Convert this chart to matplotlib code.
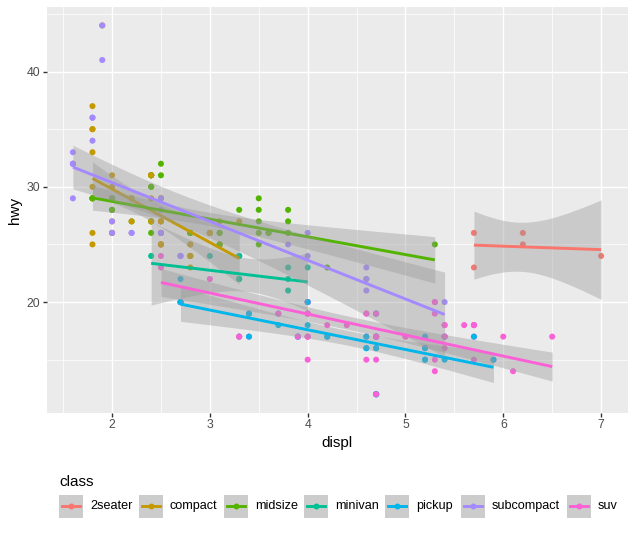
import numpy as np
import matplotlib
matplotlib.use("Agg")
import matplotlib.pyplot as plt
from matplotlib.patches import Rectangle
from matplotlib.lines import Line2D
from math import lgamma, pi, exp

plt.rcParams['font.family'] = ['Liberation Sans', 'DejaVu Sans']

# mpg: engine displacement vs highway mileage, rows in data order
displ = [
    1.8, 1.8, 2.0, 2.0, 2.8, 2.8, 3.1,                      # audi a4
    1.8, 1.8, 2.0, 2.0, 2.8, 2.8, 3.1, 3.1,                 # a4 quattro
    2.8, 3.1, 4.2,                                          # a6 quattro
    5.3, 5.3, 5.3, 5.7, 6.0,                                # c1500 suburban
    5.7, 5.7, 6.2, 6.2, 7.0,                                # corvette
    5.3, 5.3, 5.7, 6.5,                                     # k1500 tahoe
    2.4, 2.4, 3.1, 3.5, 3.6,                                # malibu
    2.4, 3.0, 3.3, 3.3, 3.3, 3.3, 3.3, 3.8, 3.8, 3.8, 4.0,  # caravan
    3.7, 3.7, 3.9, 3.9, 4.7, 4.7, 4.7, 5.2, 5.2,            # dakota
    3.9, 4.7, 4.7, 4.7, 5.2, 5.7, 5.9,                      # durango
    4.7, 4.7, 4.7, 4.7, 4.7, 4.7, 5.2, 5.2, 5.7, 5.9,       # ram 1500
    4.6, 5.4, 5.4,                                          # expedition
    4.0, 4.0, 4.0, 4.0, 4.6, 5.0,                           # explorer
    4.2, 4.2, 4.6, 4.6, 4.6, 5.4, 5.4,                      # f150
    3.8, 3.8, 4.0, 4.0, 4.6, 4.6, 4.6, 4.6, 5.4,            # mustang
    1.6, 1.6, 1.6, 1.6, 1.6, 1.8, 1.8, 1.8, 2.0,            # civic
    2.4, 2.4, 2.4, 2.4, 2.5, 2.5, 3.3,                      # sonata
    2.0, 2.0, 2.0, 2.0, 2.7, 2.7, 2.7,                      # tiburon
    3.0, 3.7, 4.0, 4.7, 4.7, 4.7, 5.7, 6.1,                 # grand cherokee
    4.0, 4.2, 4.4, 4.6,                                     # range rover
    5.4, 5.4, 5.4,                                          # navigator
    4.0, 4.0, 4.6, 5.0,                                     # mountaineer
    2.4, 2.4, 2.5, 2.5, 3.5, 3.5,                           # altima
    3.0, 3.0, 3.5,                                          # maxima
    3.3, 3.3, 4.0, 5.6,                                     # pathfinder
    3.1, 3.8, 3.8, 3.8, 5.3,                                # grand prix
    2.5, 2.5, 2.5, 2.5, 2.5, 2.5,                           # forester
    2.2, 2.2, 2.5, 2.5, 2.5, 2.5, 2.5, 2.5,                 # impreza
    2.7, 2.7, 3.4, 3.4, 4.0, 4.7,                           # 4runner
    2.2, 2.2, 2.4, 2.4, 3.0, 3.0, 3.5,                      # camry
    2.2, 2.2, 2.4, 2.4, 3.0, 3.0, 3.3,                      # camry solara
    1.8, 1.8, 1.8, 1.8, 1.8,                                # corolla
    4.7, 5.7,                                               # land cruiser
    2.7, 2.7, 2.7, 3.4, 3.4, 4.0, 4.0,                      # tacoma
    2.0, 2.0, 2.0, 2.0, 2.8,                                # gti
    1.9, 2.0, 2.0, 2.0, 2.0, 2.5, 2.5, 2.8, 2.8,            # jetta
    1.9, 1.9, 2.0, 2.0, 2.5, 2.5,                           # new beetle
    1.8, 1.8, 2.0, 2.0, 2.8, 2.8, 3.6,                      # passat
]

hwy = [
    29, 29, 31, 30, 26, 26, 27,
    26, 25, 28, 27, 25, 25, 25, 25,
    24, 25, 23,
    20, 15, 20, 17, 17,
    26, 23, 26, 25, 24,
    19, 14, 15, 17,
    27, 30, 26, 29, 26,
    24, 24, 22, 22, 24, 24, 17, 22, 21, 23, 23,
    19, 18, 17, 17, 19, 19, 12, 17, 15,
    17, 17, 12, 17, 16, 18, 15,
    16, 12, 17, 17, 16, 12, 15, 16, 17, 15,
    17, 17, 18,
    17, 19, 17, 19, 19, 17,
    17, 17, 16, 16, 17, 15, 17,
    26, 25, 26, 24, 21, 22, 23, 22, 20,
    33, 32, 32, 29, 32, 34, 36, 36, 29,
    26, 27, 30, 31, 26, 26, 28,
    26, 29, 28, 27, 24, 24, 24,
    22, 19, 20, 17, 12, 19, 18, 14,
    15, 18, 18, 15,
    17, 16, 18,
    17, 19, 19, 17,
    29, 27, 31, 32, 27, 26,
    26, 26, 25,
    17, 17, 20, 18,
    26, 26, 27, 28, 25,
    25, 24, 27, 25, 26, 23,
    26, 26, 26, 26, 25, 27, 25, 27,
    20, 20, 19, 17, 20, 17,
    29, 27, 31, 31, 26, 26, 28,
    27, 29, 31, 31, 26, 26, 27,
    30, 33, 35, 37, 35,
    15, 18,
    20, 20, 22, 17, 19, 18, 20,
    29, 26, 29, 29, 24,
    44, 29, 26, 29, 29, 29, 29, 23, 24,
    44, 41, 29, 26, 28, 29,
    29, 29, 28, 29, 26, 26, 26,
]

# class of each row, as (class, run length) in data order
class_runs = [
    ("compact", 15), ("midsize", 3), ("suv", 5), ("2seater", 5), ("suv", 4),
    ("midsize", 5), ("minivan", 11), ("pickup", 9), ("suv", 7), ("pickup", 10),
    ("suv", 9), ("pickup", 7), ("subcompact", 18), ("midsize", 7),
    ("subcompact", 7), ("suv", 19), ("compact", 2), ("midsize", 7), ("suv", 4),
    ("midsize", 5), ("suv", 6), ("subcompact", 4), ("compact", 4), ("suv", 6),
    ("midsize", 7), ("compact", 12), ("suv", 2), ("pickup", 7), ("compact", 14),
    ("subcompact", 6), ("midsize", 7),
]
cls = [c for c, n in class_runs for _ in range(n)]

classes = ["2seater", "compact", "midsize", "minivan", "pickup", "subcompact", "suv"]
colors = ["#F8766D", "#C49A00", "#53B400", "#00C094", "#00B6EB", "#A58AFF", "#FB61D7"]


def t_quantile(p, df):
    c = exp(lgamma((df + 1) / 2) - lgamma(df / 2)) / np.sqrt(df * pi)

    def cdf(t):
        xs = np.linspace(0, t, 4001)
        return 0.5 + np.trapezoid(c * (1 + xs ** 2 / df) ** (-(df + 1) / 2), xs)
    lo, hi = 0.0, 50.0
    for _ in range(60):
        mid = (lo + hi) / 2
        if cdf(mid) < p:
            lo = mid
        else:
            hi = mid
    return (lo + hi) / 2


def lm_fit(x, y, n_out=80):
    # linear fit with 95% confidence band, like geom_smooth(method="lm")
    x = np.asarray(x, float)
    y = np.asarray(y, float)
    n = len(x)
    b, a = np.polyfit(x, y, 1)
    resid = y - (a + b * x)
    s = np.sqrt(np.sum(resid ** 2) / (n - 2))
    sxx = np.sum((x - x.mean()) ** 2)
    xs = np.linspace(x.min(), x.max(), n_out)
    fit = a + b * xs
    se = s * np.sqrt(1 / n + (xs - x.mean()) ** 2 / sxx)
    tq = t_quantile(0.975, n - 2)
    return xs, fit, fit - tq * se, fit + tq * se


displ_a = np.array(displ)
hwy_a = np.array(hwy)
cls_a = np.array(cls)

fig = plt.figure(figsize=(6.35, 5.33), dpi=100)
ax = fig.add_axes([46.5 / 635, 1 - 412.7 / 533, 581 / 635, 405.7 / 533])
ax.set_facecolor("#EBEBEB")

col_map = dict(zip(classes, colors))
ax.scatter(displ_a, hwy_a, c=[col_map[c] for c in cls], s=19, linewidths=0, zorder=2)

ymins, ymaxs = [hwy_a.min()], [hwy_a.max()]
for i, (k, col) in enumerate(zip(classes, colors)):
    m = cls_a == k
    xs, fit, lo, hi = lm_fit(displ_a[m], hwy_a[m])
    ax.fill_between(xs, lo, hi, color="#999999", alpha=0.4, linewidth=0, zorder=3 + 2 * i)
    ax.plot(xs, fit, color=col, lw=2.1, zorder=4 + 2 * i, solid_capstyle="butt")
    ymins.append(lo.min())
    ymaxs.append(hi.max())

x0, x1 = displ_a.min(), displ_a.max()
y0, y1 = min(ymins), max(ymaxs)
ax.set_xlim(x0 - 0.05 * (x1 - x0), x1 + 0.05 * (x1 - x0))
ax.set_ylim(y0 - 0.05 * (y1 - y0), y1 + 0.05 * (y1 - y0))

ax.set_xticks([2, 3, 4, 5, 6, 7])
ax.set_xticks([1.5, 2.5, 3.5, 4.5, 5.5, 6.5], minor=True)
ax.set_yticks([20, 30, 40])
ax.set_yticks([15, 25, 35, 45], minor=True)
ax.grid(which="major", color="white", lw=1.07, zorder=0)
ax.grid(which="minor", color="white", lw=0.53, zorder=0)
ax.set_axisbelow(True)
for sp in ax.spines.values():
    sp.set_visible(False)
ax.tick_params(which="major", length=2.64, width=1.0, color="#333333",
               labelsize=8.8, labelcolor="#4D4D4D", pad=2)
ax.tick_params(which="minor", length=0)

fig.text(337 / 635, 1 - 443 / 533, "displ", ha="center", va="center", fontsize=11)
fig.text(15 / 635, 1 - 210 / 533, "hwy", ha="center", va="center", rotation=90, fontsize=11)

# legend at the bottom, drawn in pixel coordinates
lg = fig.add_axes([0, 0, 1, 1], facecolor="none")
lg.set_xlim(0, 635)
lg.set_ylim(533, 0)
lg.axis("off")
lg.text(59, 481.5, "class", ha="left", va="center", fontsize=11)
key_left = [59, 139, 224, 304, 385, 461, 567]
kw, kh, ky = 23.7, 22.7, 495
for k, col, kx in zip(classes, colors, key_left):
    lg.add_patch(Rectangle((kx, ky), kw, kh, facecolor="#CCCCCC", edgecolor="none"))
    lg.add_line(Line2D([kx + 2.5, kx + kw - 2.5], [ky + kh / 2] * 2, color=col, lw=2.1))
    lg.plot([kx + kw / 2], [ky + kh / 2], "o", color=col, ms=4.3, mew=0)
    lg.text(kx + 31, ky + kh / 2, k, ha="left", va="center", fontsize=9.1)

fig.savefig("out.png", dpi=100)
